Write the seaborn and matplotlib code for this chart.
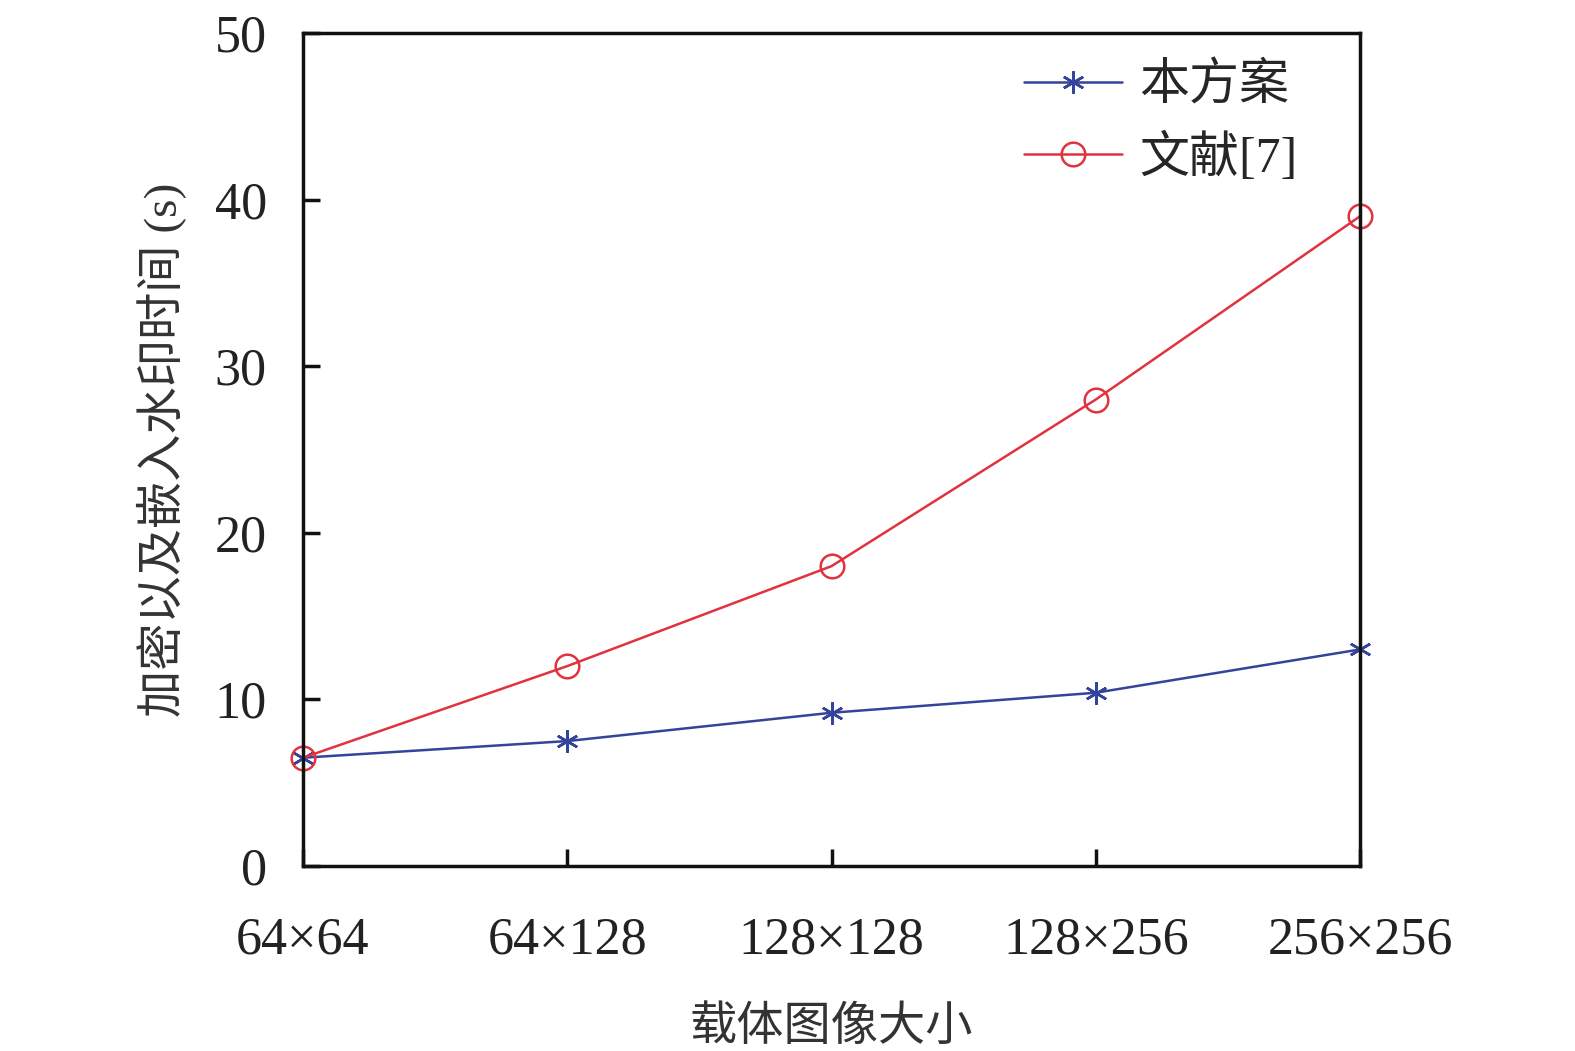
import numpy as np
import matplotlib.pyplot as plt
import seaborn as sns
import pandas as pd

sizes = ["64×64", "64×128", "128×128", "128×256", "256×256"]
ours = [6.5, 7.5, 9.2, 10.4, 13.0]
ref7 = [6.5, 12.0, 18.0, 28.0, 39.0]

sns.set_style("white")
plt.rcParams['font.family'] = ['Liberation Serif', 'Noto Sans CJK SC']

df = pd.DataFrame({"size": sizes, "ours": ours, "ref7": ref7})

fig = plt.figure(figsize=(15.75, 10.51), dpi=100)
ax = fig.add_axes([0.1924, 0.176, 0.6711, 0.7926])

blue = "#34449a"
red = "#e0323f"
sns.lineplot(data=df, x="size", y="ours", ax=ax, color=blue, lw=1.8, sort=False,
             marker=(6, 2, 0), markersize=16, markeredgewidth=1.8, markeredgecolor=blue,
             label="本方案", clip_on=False)
sns.lineplot(data=df, x="size", y="ref7", ax=ax, color=red, lw=1.8, sort=False,
             marker="o", markersize=17, markerfacecolor="none", markeredgewidth=1.8,
             markeredgecolor=red, label="文献[7]", clip_on=False)

ax.set_xlim(0, 4)
ax.set_ylim(0, 50)
ax.set_yticks([0, 10, 20, 30, 40, 50])
ax.set_xticks(range(len(sizes)))
ax.set_xticklabels(sizes)
ax.tick_params(bottom=True, left=True, direction="in", length=12, width=2.5,
               labelsize=37.5, colors="#111111", labelcolor="#222222")
ax.tick_params(axis="x", pad=36)
ax.tick_params(axis="y", pad=26)
for s in ax.spines.values():
    s.set_linewidth(2.5)
    s.set_color("#111111")

ax.set_xlabel("载体图像大小", fontsize=34, color="#333333", labelpad=30)
ax.set_ylabel("加密以及嵌入水印时间 (s)", fontsize=34, color="#333333", labelpad=20)

ax.legend(loc="upper right", frameon=False, fontsize=36, handlelength=1.95,
          handletextpad=0.35, labelspacing=0.45, borderaxespad=0.3,
          bbox_to_anchor=(0.974, 1.005))

fig.savefig("out.png", dpi=100)
